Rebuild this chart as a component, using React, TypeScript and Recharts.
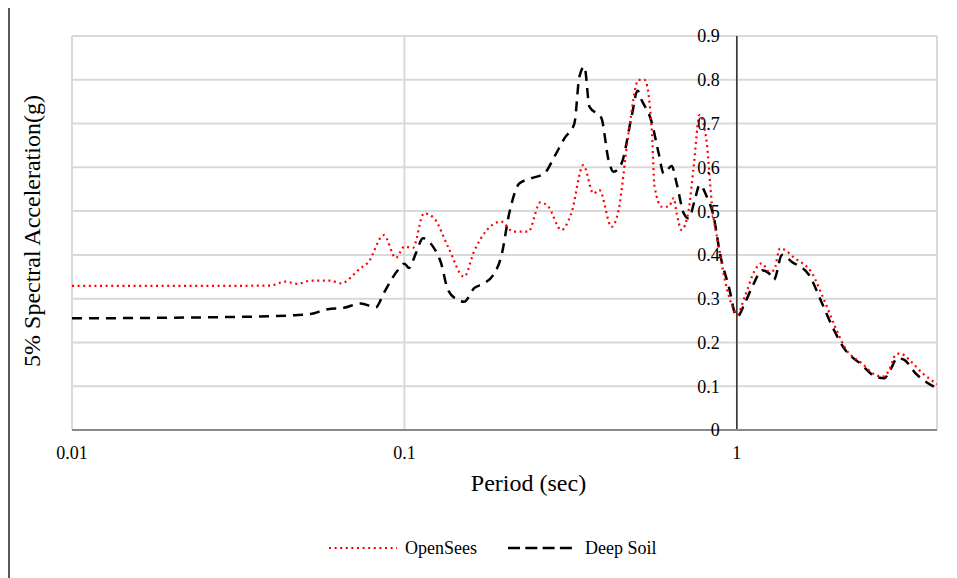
import React from 'react';
import {
  LineChart,
  Line,
  XAxis,
  YAxis,
  CartesianGrid,
  ReferenceLine,
  ReferenceDot,
  Legend,
  Label,
} from 'recharts';

const FONT = '"Liberation Serif", "Times New Roman", serif';

// OpenSees response spectrum (period in sec, Sa in g)
const periodsOpenSees = [
  0.01, 0.0243, 0.0396, 0.0439, 0.0477, 0.0522, 0.06, 0.0643, 0.0739, 0.0776,
  0.0867, 0.0942, 0.1, 0.106, 0.1145, 0.1227, 0.1352, 0.1512, 0.162, 0.1762,
  0.1955, 0.2125, 0.2358, 0.2564, 0.271, 0.2965, 0.3177, 0.3453, 0.3703, 0.386,
  0.4198, 0.4406, 0.4722, 0.506, 0.528, 0.554, 0.5656, 0.594, 0.624, 0.6457,
  0.659, 0.682, 0.716, 0.741, 0.773, 0.812, 0.8406, 0.8825, 0.92, 0.979,
  1.0, 1.057, 1.133, 1.19, 1.249, 1.293, 1.348, 1.496, 1.683, 1.83,
  1.975, 2.118, 2.38, 2.608, 2.737, 2.873, 2.996, 3.102, 3.303, 3.614, 4.0,
];
const saOpenSees = [
  0.329, 0.329, 0.33, 0.339, 0.334, 0.341, 0.341, 0.335, 0.37, 0.382,
  0.445, 0.393, 0.419, 0.416, 0.495, 0.484, 0.419, 0.35, 0.408, 0.455,
  0.476, 0.453, 0.453, 0.52, 0.51, 0.457, 0.495, 0.605, 0.54, 0.548,
  0.464, 0.502, 0.678, 0.8, 0.8, 0.693, 0.556, 0.51, 0.51, 0.53,
  0.495, 0.457, 0.502, 0.6, 0.72, 0.655, 0.518, 0.419, 0.343, 0.275,
  0.263, 0.305, 0.365, 0.381, 0.362, 0.365, 0.415, 0.392, 0.358, 0.297,
  0.236, 0.187, 0.152, 0.126, 0.122, 0.137, 0.171, 0.175, 0.16, 0.13, 0.105,
];

// Deep Soil response spectrum
const periodsDeepSoil = [
  0.01, 0.0352, 0.0464, 0.0522, 0.0588, 0.0657, 0.0739, 0.082, 0.0867, 0.0955,
  0.1, 0.1032, 0.1083, 0.1137, 0.1219, 0.1289, 0.1352, 0.145, 0.1512, 0.162,
  0.1737, 0.1849, 0.1955, 0.2067, 0.2215, 0.2408, 0.2635, 0.2825, 0.3028, 0.3245,
  0.336, 0.3479, 0.3603, 0.3835, 0.3916, 0.4111, 0.4256, 0.4499, 0.4823, 0.5028,
  0.5169, 0.554, 0.5818, 0.6024, 0.6368, 0.659, 0.692, 0.716, 0.747, 0.773,
  0.812, 0.852, 0.889, 0.946, 1.0, 1.057, 1.125, 1.19, 1.249, 1.293,
  1.367, 1.465, 1.649, 1.805, 1.961, 2.118, 2.35, 2.608, 2.776, 2.893,
  3.039, 3.19, 3.443, 4.0,
];
const saDeepSoil = [
  0.255, 0.259, 0.262, 0.265, 0.276, 0.279, 0.289, 0.28, 0.313, 0.365,
  0.38, 0.37, 0.404, 0.438, 0.419, 0.381, 0.32, 0.297, 0.293, 0.324,
  0.335, 0.354, 0.396, 0.495, 0.563, 0.575, 0.586, 0.624, 0.666, 0.7,
  0.807, 0.83, 0.738, 0.72, 0.712, 0.617, 0.59, 0.609, 0.716, 0.775,
  0.754, 0.704, 0.632, 0.586, 0.603, 0.563, 0.495, 0.483, 0.525, 0.56,
  0.533, 0.487, 0.404, 0.327, 0.258, 0.29, 0.335, 0.365, 0.358, 0.343,
  0.4, 0.384, 0.354, 0.289, 0.228, 0.183, 0.152, 0.122, 0.118, 0.137,
  0.164, 0.16, 0.13, 0.095,
];

const xTicks = [0.01, 0.1, 1];
const xTickLabels = ['0.01', '0.1', '1'];
const yTicks = [0, 0.1, 0.2, 0.3, 0.4, 0.5, 0.6, 0.7, 0.8, 0.9];
const yTickLabels = ['0', '0.1', '0.2', '0.3', '0.4', '0.5', '0.6', '0.7', '0.8', '0.9'];
const seriesNames = ['OpenSees', 'Deep Soil'];

const openSeesData = periodsOpenSees.map((t, i) => ({ period: t, sa: saOpenSees[i] }));
const deepSoilData = periodsDeepSoil.map((t, i) => ({ period: t, sa: saDeepSoil[i] }));

const renderLegend = () => (
  <div style={{ height: 48, position: 'relative', fontFamily: FONT, fontSize: 18, color: '#000' }}>
    <div style={{ position: 'absolute', left: 321, top: 8, display: 'flex', alignItems: 'center', lineHeight: '20px' }}>
      <svg width={68} height={6}>
        <line x1={0} y1={3} x2={68} y2={3} stroke="#ff0000" strokeWidth={2.2} strokeDasharray="2 3.6" />
      </svg>
      <span style={{ marginLeft: 8 }}>{seriesNames[0]}</span>
      <svg width={64} height={6} style={{ marginLeft: 31 }}>
        <line x1={0} y1={3} x2={64} y2={3} stroke="#000" strokeWidth={2.5} strokeDasharray="12 5.3" />
      </svg>
      <span style={{ marginLeft: 13 }}>{seriesNames[1]}</span>
    </div>
  </div>
);

const YTitle = (props: any) => {
  const vb = props.viewBox || { x: 0, y: 30, width: 64, height: 394 };
  const cx = vb.x + 30;
  const cy = vb.y + vb.height / 2 - 2;
  return (
    <text
      x={cx}
      y={cy}
      transform={`rotate(-90 ${cx} ${cy})`}
      textAnchor="middle"
      fontFamily={FONT}
      fontSize={24}
      fill="#000"
    >
      5% Spectral Acceleration(g)
    </text>
  );
};

const XTitle = (props: any) => {
  const vb = props.viewBox || { x: 64, y: 424, width: 863, height: 100 };
  const cx = vb.x + vb.width / 2 + 24;
  const cy = vb.y + 61;
  return (
    <text x={cx} y={cy} textAnchor="middle" fontFamily={FONT} fontSize={24} fill="#000">
      Period (sec)
    </text>
  );
};

const EmptyTick = () => <g />;

export default function App() {
  return (
    <div
      style={{
        position: 'relative',
        marginTop: -2,
        width: 949,
        height: 572,
        fontFamily: FONT,
        borderTop: '2px solid #5a5a5a',
        borderLeft: '2px solid #5a5a5a',
        boxSizing: 'border-box',
      }}
    >
      <LineChart
        width={947}
        height={570}
        margin={{ top: 28, right: 20, left: 0, bottom: 0 }}
        style={{ position: 'absolute', left: 0, top: 0 }}
      >
        <CartesianGrid stroke="#d9d9d9" strokeWidth={2} vertical horizontal={false} />
        <XAxis
          dataKey="period"
          type="number"
          scale="log"
          domain={[0.01, 4]}
          ticks={xTicks}
          allowDataOverflow
          height={100}
          tickLine={false}
          tickMargin={10}
          axisLine={{ stroke: '#898989', strokeWidth: 1.8 }}
          tick={{ fill: '#000', fontSize: 18, fontFamily: FONT }}
          tickFormatter={(v: number) => xTickLabels[xTicks.indexOf(v)] ?? String(v)}
        >
          <Label content={<XTitle />} />
        </XAxis>
        <YAxis
          type="number"
          domain={[0, 0.9]}
          ticks={yTicks}
          interval={0}
          width={62}
          tick={<EmptyTick />}
          tickLine={false}
          axisLine={false}
        >
          <Label content={<YTitle />} />
        </YAxis>
        {yTicks.slice(1).map((v) => (
          <ReferenceLine key={`g${v}`} y={v} stroke="#d9d9d9" strokeWidth={2} />
        ))}
        <ReferenceLine x={1} stroke="#000" strokeWidth={1.2} />
        {yTicks.map((v, i) => (
          <ReferenceDot
            key={i}
            x={1}
            y={v}
            r={0}
            fill="none"
            stroke="none"
            label={{ value: yTickLabels[i], position: 'left', offset: 17, fill: '#000', fontSize: 18, fontFamily: FONT }}
          />
        ))}
        <Legend verticalAlign="bottom" content={renderLegend} wrapperStyle={{ left: -2, width: 949 }} />
        <Line
          data={deepSoilData}
          dataKey="sa"
          name={seriesNames[1]}
          type="monotone"
          stroke="#000"
          strokeWidth={2.5}
          strokeDasharray="10 7"
          dot={false}
          activeDot={false}
          isAnimationActive={false}
        />
        <Line
          data={openSeesData}
          dataKey="sa"
          name={seriesNames[0]}
          type="monotone"
          stroke="#ff0000"
          strokeWidth={2.2}
          strokeDasharray="2 3.6"
          dot={false}
          activeDot={false}
          isAnimationActive={false}
        />
      </LineChart>
    </div>
  );
}
